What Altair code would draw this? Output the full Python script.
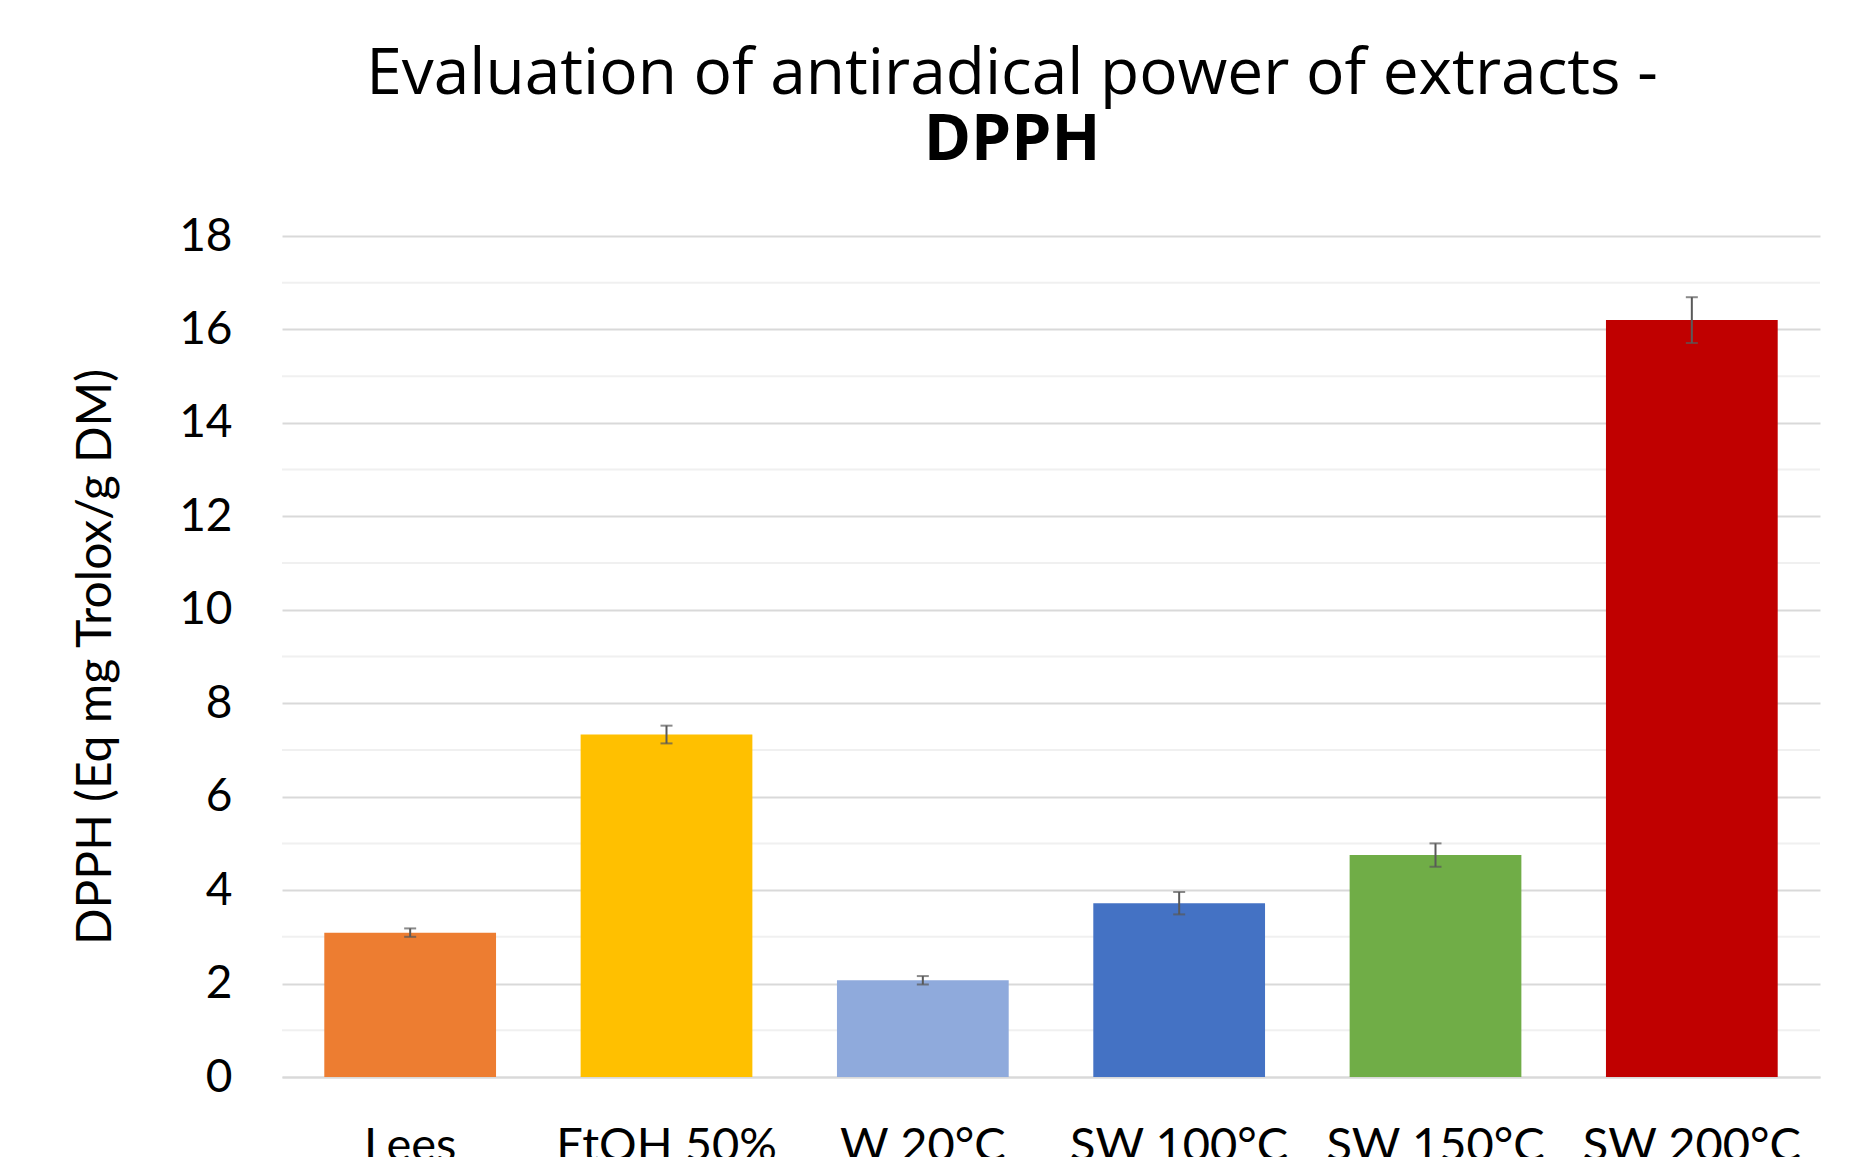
import altair as alt
import pandas as pd

categories = ["Lees", "EtOH 50%", "W 20°C", "SW 100°C", "SW 150°C", "SW 200°C"]
values = [3.09, 7.33, 2.07, 3.72, 4.75, 16.20]
errors = [0.09, 0.19, 0.09, 0.24, 0.25, 0.49]
colors = ["#ED7D31", "#FFC000", "#8FAADC", "#4472C4", "#70AD47", "#C00000"]
major_ticks = [0, 2, 4, 6, 8, 10, 12, 14, 16, 18]
minor_ticks = [1, 3, 5, 7, 9, 11, 13, 15, 17]

df = pd.DataFrame({
    "cat": categories,
    "val": values,
    "lo": [v - e for v, e in zip(values, errors)],
    "hi": [v + e for v, e in zip(values, errors)],
})
minor_df = pd.DataFrame({"g": minor_ticks})

FONT = "Lato"
TFONT = "Open Sans"

xenc = alt.X("cat:N", sort=categories,
             scale=alt.Scale(paddingInner=0.33, paddingOuter=0.165),
             axis=alt.Axis(title=None, labelAngle=0, labelFontSize=47, labelFont=FONT,
                           labelColor="#000000", labelPadding=46, labelLimit=0, ticks=False,
                           domainColor="#D9D9D9", domainWidth=2))
yscale = alt.Scale(domain=[0, 18], nice=False)

minor = alt.Chart(minor_df).mark_rule(color="#F0F0F0", strokeWidth=2).encode(
    y=alt.Y("g:Q", scale=yscale)
)

bars = alt.Chart(df).mark_bar().encode(
    x=xenc,
    y=alt.Y("val:Q", scale=yscale,
            axis=alt.Axis(values=major_ticks, title="DPPH (Eq mg Trolox/g DM)",
                          titleFontSize=48, titleFont=FONT, titleFontWeight="normal",
                          titleColor="#000000", titlePadding=58,
                          labelFontSize=46, labelFont=FONT, labelColor="#000000",
                          labelPadding=50, ticks=False, domain=False,
                          gridColor="#D9D9D9", gridWidth=2)),
    color=alt.Color("cat:N", sort=categories,
                    scale=alt.Scale(domain=categories, range=colors), legend=None),
)

err = alt.Chart(df).mark_rule(color="#595959", strokeWidth=2).encode(
    x=alt.X("cat:N", sort=categories),
    y=alt.Y("lo:Q", scale=yscale),
    y2="hi:Q",
)
cap_lo = alt.Chart(df).mark_tick(color="#595959", thickness=2, size=12).encode(
    x=alt.X("cat:N", sort=categories),
    y=alt.Y("lo:Q", scale=yscale),
)
cap_hi = alt.Chart(df).mark_tick(color="#595959", thickness=2, size=12).encode(
    x=alt.X("cat:N", sort=categories),
    y=alt.Y("hi:Q", scale=yscale),
)

chart = alt.layer(minor, bars, err, cap_lo, cap_hi).properties(
    width=1538,
    height=841,
    autosize=alt.AutoSizeParams(type="none"),
    padding={"left": 274, "top": 228, "right": 29, "bottom": 80},
    title=alt.TitleParams(
        text="Evaluation of antiradical power of extracts -",
        subtitle="DPPH",
        anchor="middle",
        dx=-39,
        font=TFONT,
        fontSize=64,
        fontWeight="normal",
        color="#000000",
        subtitleFont=TFONT,
        subtitleFontSize=64,
        subtitleFontWeight="bold",
        subtitleColor="#000000",
        subtitlePadding=2,
        offset=40,
    ),
).configure_view(stroke=None)

chart.save("out.html", embed_options={"renderer": "svg", "actions": False})
